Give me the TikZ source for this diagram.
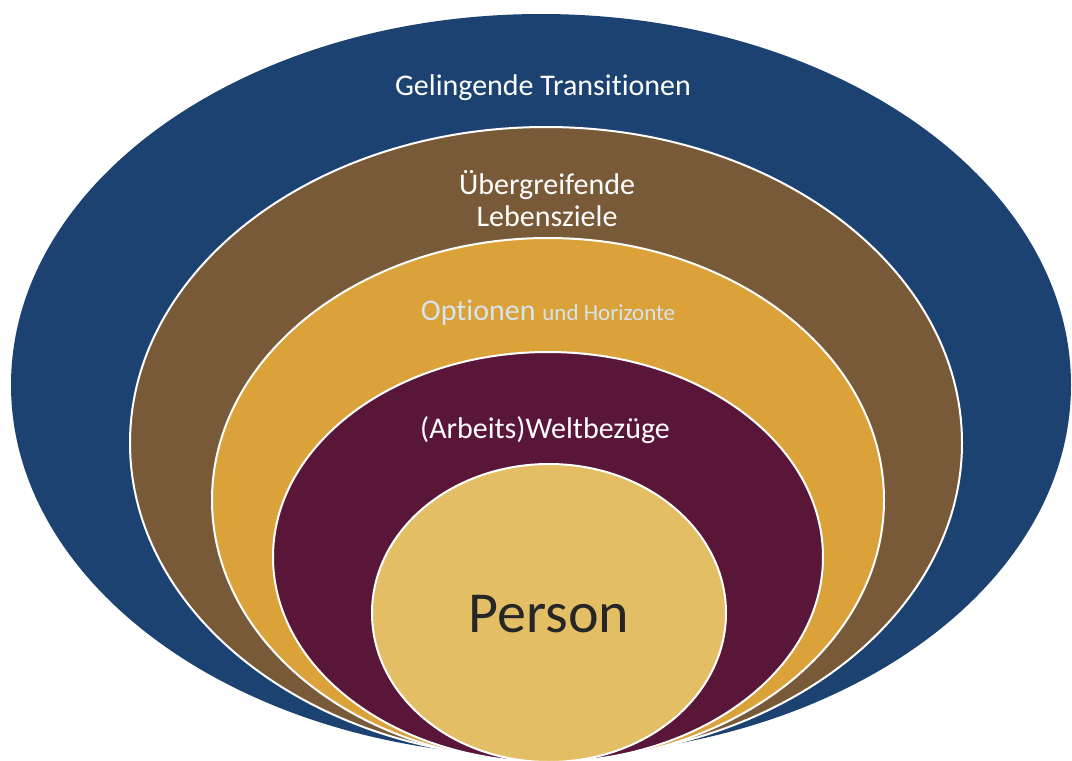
\documentclass[tikz,border=0pt]{standalone}
\usepackage{fontspec}
\setmainfont{Carlito}[Ligatures=NoCommon]
\usepackage{tikz}
\definecolor{ringblue}{RGB}{27,66,112}
\definecolor{ringbrown}{RGB}{120,90,56}
\definecolor{ringgold}{RGB}{220,162,58}
\definecolor{ringmaroon}{RGB}{90,22,56}
\definecolor{ringcore}{RGB}{228,190,100}
\definecolor{paletext}{RGB}{214,228,238}

\begin{document}
\begin{tikzpicture}[x=1pt, y=-1pt,
		ring/.style={fill=#1, draw=white, line width=2pt},
		ringlabel/.style={text=white, align=center, inner sep=0pt, font=\fontsize{30}{32}\selectfont}]
	\useasboundingbox (0,0) rectangle (1072,761);
	\clip (0,0) rectangle (1072,761);

	% nested rings, outermost first
	\fill[ringblue] (541,385) ellipse [x radius=530, y radius=371];
	\draw[ring=ringbrown] (546,443) ellipse [x radius=416, y radius=316];
	\draw[ring=ringgold] (548,500) ellipse [x radius=336, y radius=262];
	\draw[ring=ringmaroon] (548,557) ellipse [x radius=275, y radius=205];
	\draw[ring=ringcore] (549,613) ellipse [x radius=177, y radius=149];

	% labels
	\node[ringlabel] (transitionen) at (543,88) {Gelingende Transitionen};
	\node[ringlabel] (lebensziele) at (547,199) {Übergreifende\\Lebensziele};
	\node[ringlabel, text=paletext] (optionen) at (548,313)
		{Optionen {\fontsize{23}{26}\selectfont und Horizonte}};
	\node[ringlabel] (weltbezuege) at (545,430) {(Arbeits)Weltbezüge};
	\node[ringlabel, text=black!85, font=\fontsize{58}{64}\selectfont] (person) at (549,614) {Person};
\end{tikzpicture}
\end{document}
